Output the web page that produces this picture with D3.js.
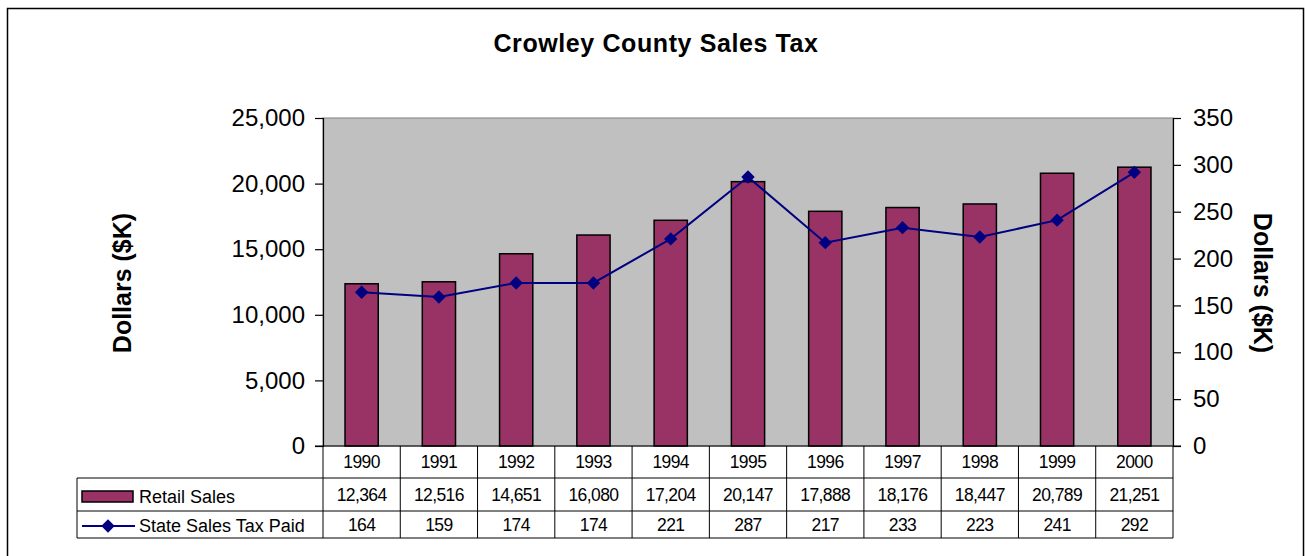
<!DOCTYPE html>
<html><head><meta charset="utf-8">
<script src="https://cdn.jsdelivr.net/npm/d3@7"></script>
<style>
html,body{margin:0;padding:0;background:#fff;}
svg{display:block;font-family:"Liberation Sans",Arial,sans-serif;}
</style></head>
<body>
<svg id="chart" width="1305" height="556"></svg>
<script>
const years = ["1990","1991","1992","1993","1994","1995","1996","1997","1998","1999","2000"];
const retailSales = [12364,12516,14651,16080,17204,20147,17888,18176,18447,20789,21251];
const stateTax = [164,159,174,174,221,287,217,233,223,241,292];
const leftTicks = [0,5000,10000,15000,20000,25000];
const rightTicks = [0,50,100,150,200,250,300,350];
const seriesNames = ["Retail Sales","State Sales Tax Paid"];

const svg = d3.select("#chart");
const L = 323, R = 1173, T = 118, B = 446;
const rowY = [446, 478, 511, 538];
const legendX = 77;

// outer border
svg.append("rect").attr("x",7.5).attr("y",8.5).attr("width",1296).attr("height",580)
  .attr("fill","#fff").attr("stroke","#000").attr("stroke-width",1.5);

svg.append("text").attr("x",656).attr("y",52).attr("text-anchor","middle")
  .attr("font-size",25).attr("font-weight","bold").attr("letter-spacing","0.6").text("Crowley County Sales Tax");

const x = d3.scaleBand().domain(years).range([L,R]).paddingInner(0).paddingOuter(0);
const yL = d3.scaleLinear().domain([0,25000]).range([B,T]);
const yR = d3.scaleLinear().domain([0,350]).range([B,T]);

// plot area
svg.append("rect").attr("x",L).attr("y",T).attr("width",R-L).attr("height",B-T)
  .attr("fill","#C0C0C0").attr("stroke","#808080").attr("stroke-width",1);

// bars
const bw = x.bandwidth()*0.43;
svg.append("g").selectAll("rect").data(retailSales).join("rect")
  .attr("x",(d,i)=>x(years[i])+x.bandwidth()/2-bw/2)
  .attr("y",d=>yL(d)).attr("width",bw).attr("height",d=>B-yL(d))
  .attr("fill","#993366").attr("stroke","#000").attr("stroke-width",1.5);

// line
const line = d3.line().x((d,i)=>x(years[i])+x.bandwidth()/2).y(d=>yR(d));
svg.append("path").datum(stateTax).attr("d",line).attr("fill","none")
  .attr("stroke","#000080").attr("stroke-width",2);
const diamond = d3.symbol(d3.symbolSquare,90);
svg.append("g").selectAll("path").data(stateTax).join("path")
  .attr("d",diamond)
  .attr("transform",(d,i)=>`translate(${x(years[i])+x.bandwidth()/2},${yR(d)}) rotate(45)`)
  .attr("fill","#000080");

// axes
const axL = svg.append("g").attr("transform",`translate(${L},0)`)
  .call(d3.axisLeft(yL).tickValues(leftTicks).tickSize(8).tickPadding(10).tickFormat(d3.format(",")));
const axR = svg.append("g").attr("transform",`translate(${R},0)`)
  .call(d3.axisRight(yR).tickValues(rightTicks).tickSize(8).tickPadding(12));
[axL,axR].forEach(a=>{
  a.select(".domain").attr("stroke","#000").attr("stroke-width",1.2);
  a.selectAll(".tick line").attr("stroke","#000").attr("stroke-width",1.2);
  a.selectAll("text").attr("font-size",24).attr("font-family","Liberation Sans, Arial, sans-serif").attr("fill","#000");
});
// x baseline
svg.append("line").attr("x1",L-8).attr("x2",R+8).attr("y1",B).attr("y2",B)
  .attr("stroke","#000").attr("stroke-width",1.2);

// axis titles
svg.append("text").attr("transform","translate(131,283) rotate(-90)").attr("text-anchor","middle")
  .attr("font-size",25).attr("font-weight","bold").text("Dollars ($K)");
svg.append("text").attr("transform","translate(1254,283) rotate(90)").attr("text-anchor","middle")
  .attr("font-size",25).attr("font-weight","bold").text("Dollars ($K)");

// data table
const tg = svg.append("g").attr("stroke","#000").attr("stroke-width",1);
years.forEach((y,i)=>{
  tg.append("line").attr("x1",x(y)).attr("x2",x(y)).attr("y1",B).attr("y2",rowY[3]);
});
tg.append("line").attr("x1",R).attr("x2",R).attr("y1",B).attr("y2",rowY[3]);
tg.append("line").attr("x1",legendX).attr("x2",legendX).attr("y1",rowY[1]).attr("y2",rowY[3]);
[1,2,3].forEach(k=>{
  tg.append("line").attr("x1",legendX).attr("x2",R).attr("y1",rowY[k]).attr("y2",rowY[k]);
});

const cellText = (row, vals, fmt) => {
  svg.append("g").selectAll("text").data(vals).join("text")
    .attr("x",(d,i)=>x(years[i])+x.bandwidth()/2)
    .attr("y",(rowY[row]+rowY[row+1])/2+6)
    .attr("text-anchor","middle").attr("font-size",17.5).attr("letter-spacing","-0.6")
    .text(fmt);
};
cellText(0, years, d=>d);
cellText(1, retailSales, d=>d3.format(",")(d));
cellText(2, stateTax, d=>d);

// legend keys
svg.append("rect").attr("x",82).attr("y",491).attr("width",51).attr("height",11)
  .attr("fill","#993366").attr("stroke","#000").attr("stroke-width",1.5);
svg.append("text").attr("x",139).attr("y",503).attr("font-size",18).text(seriesNames[0]);
svg.append("line").attr("x1",82).attr("x2",135).attr("y1",526).attr("y2",526)
  .attr("stroke","#000080").attr("stroke-width",2);
svg.append("path").attr("d",diamond).attr("transform","translate(108,526) rotate(45)").attr("fill","#000080");
svg.append("text").attr("x",139).attr("y",532).attr("font-size",18).text(seriesNames[1]);
</script>
</body></html>
